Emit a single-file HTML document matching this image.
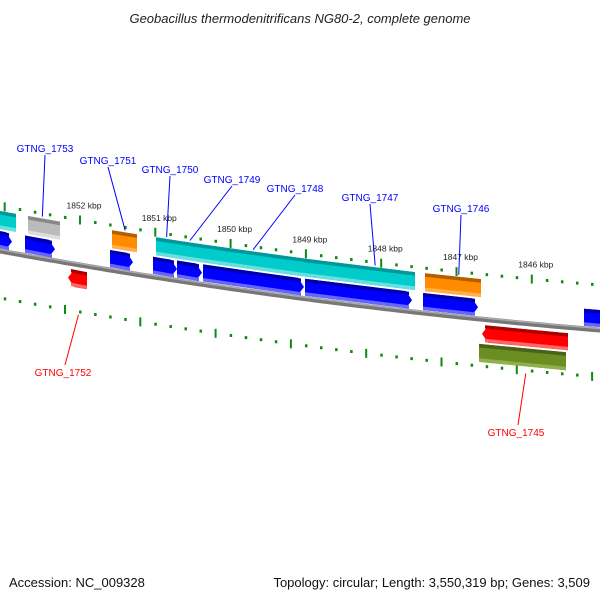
<!DOCTYPE html>
<html><head><meta charset="utf-8"><style>
body{margin:0;background:#fff}
svg{display:block;font-family:"Liberation Sans","DejaVu Sans",sans-serif}
</style></head><body>
<svg id="map" width="600" height="600" viewBox="0 0 600 600">
<text x="300" y="23" text-anchor="middle" font-size="13" font-style="italic" fill="#222">Geobacillus thermodenitrificans NG80-2, complete genome</text>
<text x="9" y="587" font-size="13" fill="#111">Accession: NC_009328</text>
<text x="590" y="587" text-anchor="end" font-size="13" fill="#111">Topology: circular; Length: 3,550,319 bp; Genes: 3,509</text>
<g id="layer"></g>
</svg>
<script>
const trackFeatures = [[1853.062,1852.850,'cyan'],[1852.691,1852.266,'gray'],[1851.575,1851.243,'orange'],[1850.991,1850.672,'cyan'],[1850.672,1850.327,'cyan'],[1850.327,1848.999,'cyan'],[1848.999,1847.551,'cyan'],[1847.418,1846.675,'orange']];
const forwardGenes = [[1853.2,1852.903],[1852.730,1852.332],[1851.602,1851.296],[1851.031,1850.712],[1850.712,1850.380],[1850.367,1849.025],[1849.012,1847.591],[1847.445,1846.714],[1845.307,1844.9]];
const reverseGenes = [[1852.159,1851.907],[1846.661,1845.519]];
const otherFeatures = [[1846.701,1845.546]];
const kbpTicks = [1852,1851,1850,1849,1848,1847,1846];
const geneLabels = [['GTNG_1753',1852.5,148,'#0000ff'],['GTNG_1751',1851.4,160,'#0000ff'],['GTNG_1750',1850.85,169,'#0000ff'],['GTNG_1749',1850.54,179,'#0000ff'],['GTNG_1748',1849.7,188,'#0000ff'],['GTNG_1747',1848.08,197,'#0000ff'],['GTNG_1746',1846.97,208,'#0000ff']];
const revLabels = [['GTNG_1752',1852.02,63,372],['GTNG_1745',1846.08,516,432]];

const NS='http://www.w3.org/2000/svg';
const L=document.getElementById('layer');
function X(k){return 80+(1852-k)*75.3;}
function C(x){return 251+0.1817*x-0.0000833*x*x;}
function mk(t,a){const e=document.createElementNS(NS,t);for(const k in a)e.setAttribute(k,a[k]);L.appendChild(e);return e;}
const colors={cyan:['#00cccc','#009999','#66e0e0'],gray:['#bbbbbb','#888','#dddddd'],orange:['#ff8c00','#b35f00','#ffb04d'],blue:['#0000ff','#0000aa','#6666ff'],red:['#ff0000','#aa0000','#ff6666'],olive:['#6b8e23','#4a6318','#8fb04a']};
function pts(arr){return arr.map(p=>p[0].toFixed(1)+','+p[1].toFixed(1)).join(' ');}
function block(k1,k2,o1,o2,col,dir,name){
  let x1=X(k1),x2=X(k2);
  const c=colors[col];
  const tip=6;
  let p;
  if(dir===1){const xe=x2-tip;p=[[x1,C(x1)+o1],[xe,C(xe)+o1],[x2,C(x2)+(o1+o2)/2],[xe,C(xe)+o2],[x1,C(x1)+o2]];}
  else if(dir===-1){const xs=x1+tip;p=[[xs,C(xs)+o1],[x2,C(x2)+o1],[x2,C(x2)+o2],[xs,C(xs)+o2],[x1,C(x1)+(o1+o2)/2]];}
  else p=[[x1,C(x1)+o1],[x2,C(x2)+o1],[x2,C(x2)+o2],[x1,C(x1)+o2]];
  const e=mk('polygon',{points:pts(p),fill:c[0]});
  
  
  const h=o2-o1;
  const s=mk('polygon',{points:pts([[x1+(dir===-1?3:0),C(x1)+o1],[x2-(dir===1?3:0),C(x2)+o1],[x2-(dir===1?3:0),C(x2)+o1+h*0.2],[x1+(dir===-1?3:0),C(x1)+o1+h*0.2]]),fill:c[1]});
  
  
  const b=mk('polygon',{points:pts([[x1+(dir===-1?3:0),C(x1)+o2-h*0.2],[x2-(dir===1?3:0),C(x2)+o2-h*0.2],[x2-(dir===1?3:0),C(x2)+o2],[x1+(dir===-1?3:0),C(x1)+o2]]),fill:c[2]});
  
  
}
// backbone
let d='';for(let x=-5;x<=605;x+=5)d+=(x===-5?'M':'L')+x+','+C(x).toFixed(1);
const bb=mk('path',{d:d,stroke:'#777',fill:'none','stroke-width':5});


const bb2=mk('path',{d:d,stroke:'#aaa',fill:'none','stroke-width':1.5,transform:'translate(0,-1.5)'});


// ticks
function tickRow(off,shift,nm){
  for(let i=0;i<=45;i++){
    const k=1844.6+i*0.2;
    const x=X(k)+shift;
    if(x<-3||x>603)continue;
    const big=Math.abs(k-Math.round(k))<0.01;
    const y=C(x)+off;
    const r=mk('rect',{x:x-1,y:big?y-4.5:y-1.5,width:big?2:2.5,height:big?9:3,fill:'#118811'});
    
    
  }
}
tickRow(-45,0,'upper');
tickRow(47,-15,'lower');
kbpTicks.forEach(k=>{
  const x=X(k)+4;
  const t=mk('text',{x:x,y:C(x)-57,'text-anchor':'middle','font-size':8.5,fill:'#222'});
  t.textContent=k+' kbp';
  
  
});
trackFeatures.forEach(f=>block(f[0],f[1],-40,-22,f[2],0,'feature-'+f[2]));
forwardGenes.forEach(g=>block(g[0],g[1],-20,-3,'blue',1,'forward-gene'));
reverseGenes.forEach(g=>block(g[0],g[1],6,23,'red',-1,'reverse-gene'));
otherFeatures.forEach(g=>block(g[0],g[1],25,43,'olive',0,'feature-olive'));
// labels
geneLabels.forEach((g,i)=>{
  const gx=X(g[1]);const lx=[45,108,170,232,295,370,461][i];
  const ln=mk('line',{x1:lx,y1:g[2]+7,x2:gx,y2:C(gx)-42,stroke:'#0000ff','stroke-width':1});
  
  
  const t=mk('text',{x:lx,y:g[2]+4,'text-anchor':'middle','font-size':10,fill:g[3]});
  t.textContent=g[0];
  
  
});
revLabels.forEach(g=>{
  const gx=X(g[1]);
  const ln=mk('line',{x1:gx,y1:C(gx)+50,x2:g[2]+2,y2:g[3]-7,stroke:'#ff0000','stroke-width':1});
  
  
  const t=mk('text',{x:g[2],y:g[3]+4,'text-anchor':'middle','font-size':10,fill:'#ff0000'});
  t.textContent=g[0];
  
  
});
</script>
</body></html>
